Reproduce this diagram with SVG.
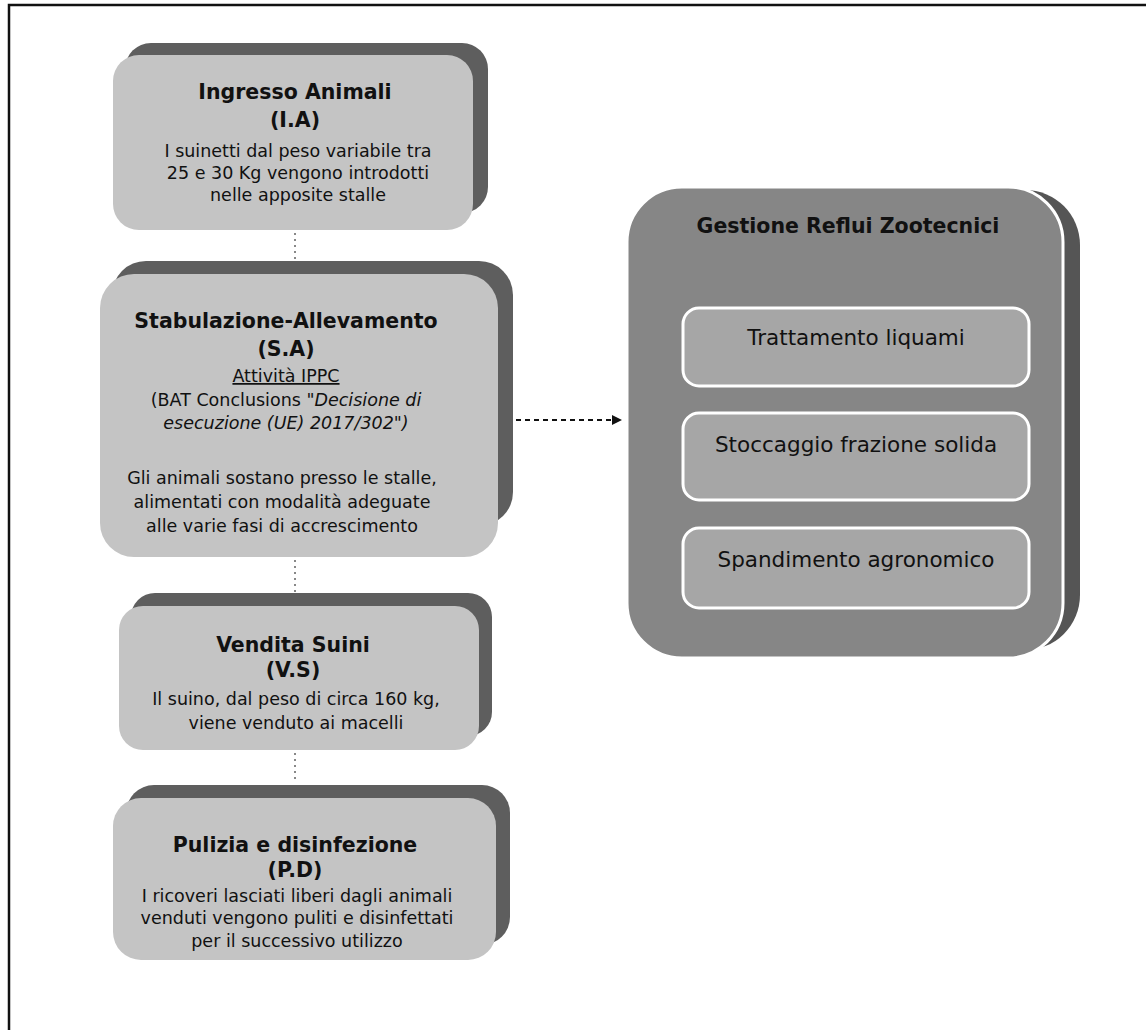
<svg xmlns="http://www.w3.org/2000/svg" width="1146" height="1033" viewBox="0 0 1146 1033">
<defs>
<style>
.sh{fill:#5e5e5e}
.bx{fill:#c4c4c4}
.t{font-family:"DejaVu Sans",Verdana,sans-serif;font-size:17.5px;fill:#111;text-anchor:middle}
.b{font-weight:bold;font-size:20.5px}
.in{font-size:21.5px}
.conn{stroke:#888;stroke-width:2;stroke-dasharray:2 4;fill:none}
</style>
<marker id="ah" markerWidth="10" markerHeight="10" refX="9" refY="5" orient="auto" markerUnits="userSpaceOnUse">
<path d="M0,0 L10,5 L0,10 z" fill="#111"/>
</marker>
</defs>
<rect width="1146" height="1033" fill="#fff"/>
<path d="M9,1030 V5 H1146" fill="none" stroke="#111" stroke-width="2.5"/>

<g id="connectors">
<line class="conn" x1="295" y1="233" x2="295" y2="262"/>
<line class="conn" x1="295" y1="560" x2="295" y2="592"/>
<line class="conn" x1="295" y1="753" x2="295" y2="783"/>
<line x1="516" y1="420" x2="621" y2="420" stroke="#111" stroke-width="2" stroke-dasharray="5 4" marker-end="url(#ah)"/>
</g>

<g id="n-ia">
<rect class="sh" x="125" y="43" width="363" height="170" rx="26"/>
<rect class="bx" x="113" y="55" width="360" height="175" rx="26"/>
<text class="t b" x="295" y="99">Ingresso Animali</text>
<text class="t b" x="295" y="127">(I.A)</text>
<text class="t" x="298" y="157">I suinetti dal peso variabile tra</text>
<text class="t" x="298" y="179">25 e 30 Kg vengono introdotti</text>
<text class="t" x="298" y="201">nelle apposite stalle</text>
</g>

<g id="n-sa">
<rect class="sh" x="112" y="261" width="401" height="265" rx="34"/>
<rect class="bx" x="100" y="274" width="398" height="283" rx="34"/>
<text class="t b" x="286" y="328">Stabulazione-Allevamento</text>
<text class="t b" x="286" y="356">(S.A)</text>
<text class="t" x="286" y="382" text-decoration="underline">Attività IPPC</text>
<text class="t" x="286" y="406">(BAT Conclusions "<tspan font-style="italic">Decisione di</tspan></text>
<text class="t" x="286" y="429" font-style="italic">esecuzione (UE) 2017/302")</text>
<text class="t" x="282" y="484">Gli animali sostano presso le stalle,</text>
<text class="t" x="282" y="508">alimentati con modalità adeguate</text>
<text class="t" x="282" y="532">alle varie fasi di accrescimento</text>
</g>

<g id="n-vs">
<rect class="sh" x="131" y="593" width="361" height="143" rx="24"/>
<rect class="bx" x="119" y="606" width="360" height="144" rx="24"/>
<text class="t b" x="293" y="652">Vendita Suini</text>
<text class="t b" x="293" y="677">(V.S)</text>
<text class="t" x="296" y="705">Il suino, dal peso di circa 160 kg,</text>
<text class="t" x="296" y="729">viene venduto ai macelli</text>
</g>

<g id="n-pd">
<rect class="sh" x="126" y="785" width="384" height="160" rx="28"/>
<rect class="bx" x="113" y="798" width="383" height="162" rx="28"/>
<text class="t b" x="295" y="852">Pulizia e disinfezione</text>
<text class="t b" x="295" y="877">(P.D)</text>
<text class="t" x="297" y="902">I ricoveri lasciati liberi dagli animali</text>
<text class="t" x="297" y="924">venduti vengono puliti e disinfettati</text>
<text class="t" x="297" y="947">per il successivo utilizzo</text>
</g>

<g id="n-grz">
<rect x="642" y="190" width="438" height="460" rx="55" fill="#555"/>
<rect x="627" y="187" width="436" height="471" rx="55" fill="#868686" stroke="#fff" stroke-width="3"/>
<text class="t b" x="848" y="233">Gestione Reflui Zootecnici</text>
<g id="n-tl">
<rect x="683" y="308" width="346" height="78" rx="16" fill="#a6a6a6" stroke="#fff" stroke-width="3"/>
<text class="t in" x="856" y="345">Trattamento liquami</text>
</g>
<g id="n-sfs">
<rect x="683" y="413" width="346" height="87" rx="16" fill="#a6a6a6" stroke="#fff" stroke-width="3"/>
<text class="t in" x="856" y="452">Stoccaggio frazione solida</text>
</g>
<g id="n-sa2">
<rect x="683" y="528" width="346" height="80" rx="16" fill="#a6a6a6" stroke="#fff" stroke-width="3"/>
<text class="t in" x="856" y="567">Spandimento agronomico</text>
</g>
</g>
</svg>
